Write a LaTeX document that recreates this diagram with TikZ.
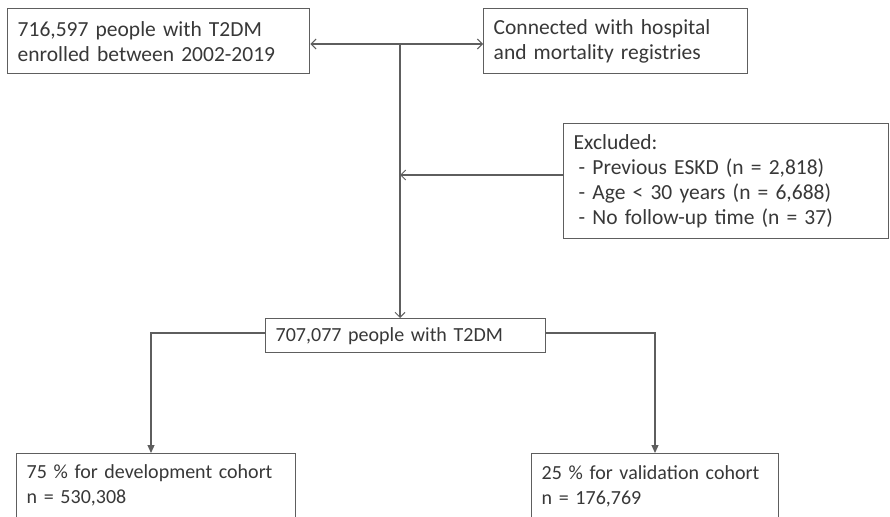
\documentclass[tikz,border=0pt]{standalone}
\usepackage{fontspec}
\setmainfont{Carlito}[WordSpace=0.6]
\usetikzlibrary{arrows.meta,calc}
\definecolor{txt}{HTML}{383838}
\definecolor{ln}{HTML}{5E5E5E}
\begin{document}
\begin{tikzpicture}[x=1pt,y=-1pt,
  box/.style={draw=ln, line width=1.4pt, rectangle, anchor=north west, align=left,
    inner xsep=10pt, inner ysep=0pt, text=txt,
    execute at begin node={\hyphenpenalty=10000\exhyphenpenalty=10000},
    font=\fontsize{21.5}{25}\selectfont},
  small/.style={font=\fontsize{20}{25}\selectfont},
  conn/.style={draw=ln, line width=1.2pt},
  openarr/.style={-{Straight Barb[length=5pt,width=10pt,line width=1pt]}},
  fillarr/.style={-{Triangle[length=8pt,width=7pt]}}]
\useasboundingbox[fill=white] (0,0) rectangle (890,516);
\node[box, text width=282pt, minimum height=65pt] (A) at (7,8)
  {716,597 people with T2DM\\enrolled between 2002-2019};
\node[box, text width=244pt, minimum height=65pt] (B) at (483,8)
  {Connected with hospital\\and mortality registries};
\node[box, text width=305pt, minimum height=115pt] (C) at (563,123)
  {Excluded:\\\hspace*{5pt}- Previous ESKD (n = 2,818)\\\hspace*{5pt}- Age < 30 years (n = 6,688)\\\hspace*{5pt}- No follow-up time (n = 37)};
\node[box, small, text width=260pt, minimum height=34pt] (D) at (265,318)
  {707,077 people with T2DM};
\node[box, small, text width=259pt, minimum height=64pt] (F) at (16,453)
  {75 \% for development cohort\\n = 530,308};
\node[box, small, text width=227pt, minimum height=66pt] (E) at (531,453)
  {25 \% for validation cohort\\n = 176,769};
\coordinate (j) at (400,44);
\coordinate (k) at (400,175);
\draw[conn,openarr] (j) -- (j -| A.east);
\draw[conn,openarr] (j) -- (j -| B.west);
\draw[conn,openarr] (j) -- (j |- D.north);
\draw[conn,openarr] (k -| C.west) -- (k);
\coordinate (dl) at (151,333);
\coordinate (dr) at (655,333);
\draw[conn,fillarr] (dl -| D.west) -- (dl) -- (dl |- F.north);
\draw[conn,fillarr] (dr -| D.east) -- (dr) -- (dr |- E.north);
\end{tikzpicture}
\end{document}
